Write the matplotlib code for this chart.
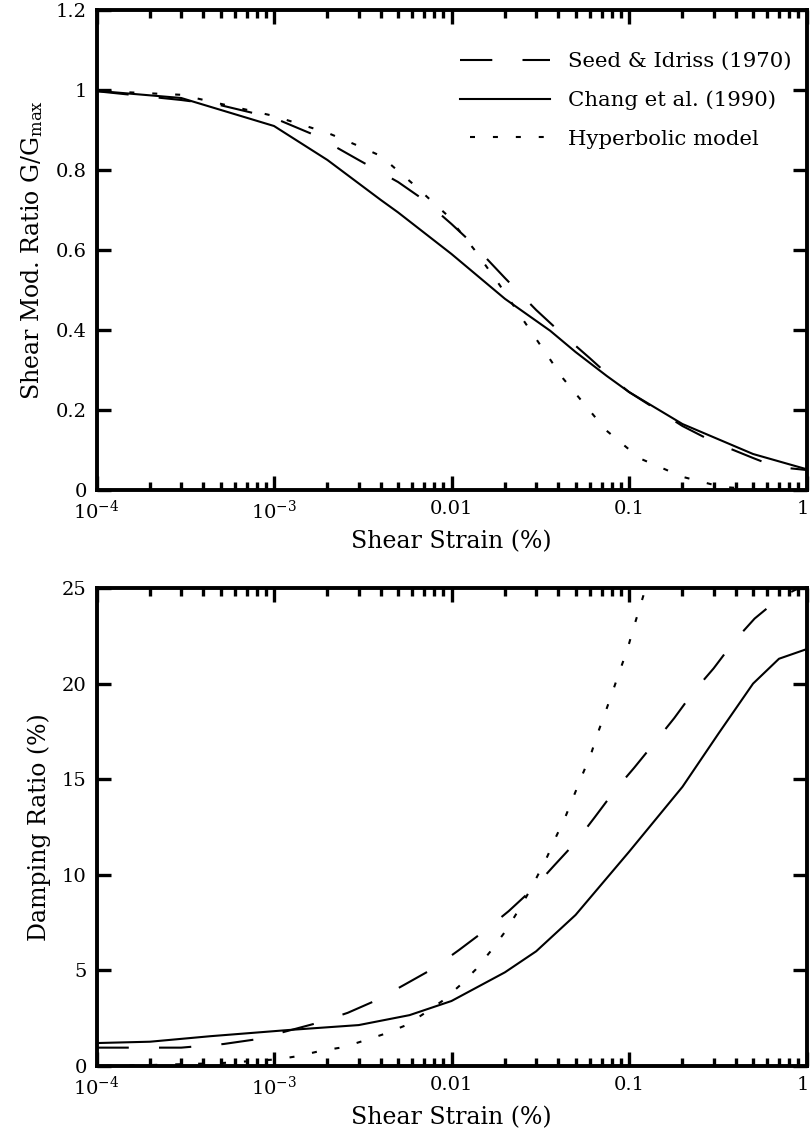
import numpy as np
import matplotlib
matplotlib.use('Agg')
import matplotlib.pyplot as plt
import matplotlib.transforms as mtransforms
from matplotlib.ticker import FixedLocator, LogLocator, NullFormatter

plt.rcParams['font.family'] = ['DejaVu Serif']
plt.rcParams['mathtext.fontset'] = 'dejavuserif'

# ---------------- data ----------------
# Shear modulus reduction G/Gmax
si_g_strain = [1e-4, 3e-4, 5e-4, 1e-3, 1.7e-3, 3e-3, 5e-3, 7e-3, 1e-2, 1.3e-2, 2e-2, 3e-2,
               4.2e-2, 6e-2, 8e-2, 0.1, 0.2, 0.3, 0.5, 0.67, 1.0]
si_g = [0.997, 0.975, 0.962, 0.93, 0.887, 0.825, 0.77, 0.725, 0.665, 0.618, 0.53, 0.45,
        0.39, 0.33, 0.28, 0.245, 0.16, 0.12, 0.08, 0.058, 0.05]

ch_g_strain = [1e-4, 3e-4, 1e-3, 2e-3, 4e-3, 5e-3, 1e-2, 2e-2, 3.6e-2, 5e-2, 7.5e-2, 0.1,
               0.2, 0.5, 1.0]
ch_g = [0.998, 0.98, 0.91, 0.825, 0.725, 0.694, 0.59, 0.478, 0.398, 0.345, 0.285, 0.245,
        0.165, 0.09, 0.052]

hy_g_strain = [1e-4, 3e-4, 1e-3, 2e-3, 3e-3, 4e-3, 6e-3, 9.4e-3, 1.35e-2, 1.87e-2, 2.6e-2,
               4.25e-2, 7.4e-2, 0.115, 0.2, 0.33, 0.5, 1.0]
hy_g = [0.998, 0.988, 0.935, 0.893, 0.86, 0.835, 0.767, 0.688, 0.6, 0.512, 0.418,
        0.279, 0.15, 0.079, 0.033, 0.008, 0.002, 0.0]

# Damping ratio (%)
si_d_strain = [1e-4, 3e-4, 5.2e-4, 8e-4, 1.2e-3, 1.77e-3, 2.6e-3, 3.8e-3, 5.5e-3, 7.9e-3,
               1.1e-2, 1.55e-2, 2.1e-2, 2.9e-2, 3.8e-2, 5e-2, 6.4e-2, 8.3e-2, 0.107, 0.139,
               0.18, 0.23, 0.30, 0.39, 0.51, 0.71, 1.0]
si_d = [0.96, 0.96, 1.15, 1.4, 1.84, 2.26, 2.78, 3.45, 4.28, 5.1,
        6.06, 7.1, 8.1, 9.3, 10.5, 11.7, 13.0, 14.4, 15.6, 16.9,
        18.2, 19.55, 20.8, 22.2, 23.4, 24.5, 25.2]

ch_d_strain = [1e-4, 2e-4, 4.4e-4, 1.2e-3, 3e-3, 5.8e-3, 1e-2, 2e-2, 3e-2, 5e-2, 0.1,
               0.2, 0.32, 0.5, 0.7, 1.0]
ch_d = [1.2, 1.27, 1.56, 1.88, 2.14, 2.66, 3.4, 4.9, 6.0, 7.9, 11.2,
        14.6, 17.4, 20.0, 21.3, 21.8]

hy_d_strain = [1e-4, 2e-4, 5e-4, 1.05e-3, 1.37e-3, 1.85e-3, 2.45e-3, 3.2e-3, 4.2e-3, 5.6e-3,
               7.1e-3, 9e-3, 1.12e-2, 1.37e-2, 1.65e-2, 1.96e-2, 2.28e-2, 2.65e-2, 3.03e-2,
               3.47e-2, 3.9e-2, 4.39e-2, 4.9e-2, 5.5e-2, 6.1e-2, 6.7e-2, 7.36e-2, 8.1e-2,
               8.9e-2, 9.8e-2, 0.106, 0.116, 0.13]
hy_d = [0.0, 0.05, 0.15, 0.35, 0.52, 0.8, 0.98, 1.32, 1.68, 2.15,
        2.78, 3.44, 4.23, 5.05, 5.97, 6.9, 7.85, 8.88, 9.89,
        10.97, 12.03, 13.05, 14.15, 15.3, 16.3, 17.46, 18.5, 19.6,
        20.7, 21.8, 22.9, 24.1, 25.6]

labels = ['Seed & Idriss (1970)', 'Chang et al. (1990)', 'Hyperbolic model']
x_ticks = [1e-4, 1e-3, 1e-2, 1e-1, 1]
x_ticklabels = [r'$\mathregular{10^{-4}}$', r'$\mathregular{10^{-3}}$', '0.01', '0.1', '1']
g_ticks = [0, 0.2, 0.4, 0.6, 0.8, 1.0, 1.2]
g_ticklabels = ['0', '0.2', '0.4', '0.6', '0.8', '1', '1.2']
d_ticks = [0, 5, 10, 15, 20, 25]
d_ticklabels = ['0', '5', '10', '15', '20', '25']

# ---------------- styling ----------------
FS_TICK = 14
FS_LABEL = 17
FS_LEG = 15.3
LW = 1.5
DASH = (0, (15.5, 14.5))
DOT = (6.2, (2.4, 8.6))

fig = plt.figure(figsize=(8.1, 11.29), dpi=100)
W, H = 810, 1129
ax1 = fig.add_axes([96.5 / W, 1 - 490 / H, 710 / W, 480 / H])
ax2 = fig.add_axes([96.5 / W, 1 - 1066 / H, 710 / W, 478 / H])


def style(ax):
    ax.set_xscale('log')
    ax.set_xlim(1e-4, 1)
    ax.xaxis.set_major_locator(FixedLocator(x_ticks))
    ax.set_xticklabels(x_ticklabels)
    ax.xaxis.set_minor_locator(LogLocator(base=10, subs=np.arange(2, 10), numticks=20))
    ax.xaxis.set_minor_formatter(NullFormatter())
    ax.tick_params(which='both', direction='in', top=True, right=True,
                   labelsize=FS_TICK, width=2.4, pad=7)
    ax.tick_params(which='major', length=10)
    ax.tick_params(which='minor', length=5.5)
    for s in ax.spines.values():
        s.set_linewidth(2.8)
    ax.set_xlabel('Shear Strain (%)', fontsize=FS_LABEL, labelpad=5)
    # keep the "1" label inside the figure
    off = mtransforms.ScaledTranslation(-4 / 100, 0, fig.dpi_scale_trans)
    lab = ax.get_xticklabels()[-1]
    lab.set_transform(lab.get_transform() + off)


for ax in (ax1, ax2):
    style(ax)

ax1.plot(si_g_strain, si_g, color='black', lw=LW, linestyle=DASH, label=labels[0])
ax1.plot(ch_g_strain, ch_g, color='black', lw=LW, label=labels[1])
ax1.plot(hy_g_strain, hy_g, color='black', lw=LW, linestyle=DOT, label=labels[2])
ax1.set_ylim(0, 1.2)
ax1.yaxis.set_major_locator(FixedLocator(g_ticks))
ax1.set_yticklabels(g_ticklabels)
ax1.set_ylabel(r'Shear Mod. Ratio G/G$_\mathregular{max}$', fontsize=FS_LABEL, labelpad=8)

ax2.plot(si_d_strain, si_d, color='black', lw=LW, linestyle=DASH)
ax2.plot(ch_d_strain, ch_d, color='black', lw=LW)
ax2.plot(hy_d_strain, hy_d, color='black', lw=LW, linestyle=DOT)
ax2.set_ylim(0, 25)
ax2.yaxis.set_major_locator(FixedLocator(d_ticks))
ax2.set_yticklabels(d_ticklabels)
ax2.set_ylabel('Damping Ratio (%)', fontsize=FS_LABEL, labelpad=8)

fs_px = FS_LEG * 100 / 72
leg = ax1.legend(loc='upper left', bbox_to_anchor=((460 - 96.5) / 710, (490 - 52) / 480),
                 frameon=False, fontsize=FS_LEG, handlelength=90 / fs_px,
                 handletextpad=18 / fs_px, labelspacing=0.92, borderpad=0, borderaxespad=0)

fig.savefig('out.png', dpi=100)
